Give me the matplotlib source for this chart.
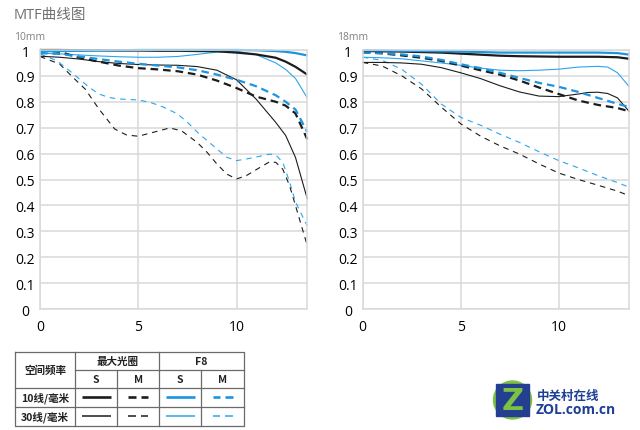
import matplotlib.pyplot as plt
from matplotlib.patches import Circle, Rectangle

plt.rcParams['font.family'] = ['Open Sans', 'Noto Sans CJK SC', 'DejaVu Sans']
plt.rcParams['lines.scale_dashes'] = False

# ---- 10mm panel ----
l_x = [0, 1, 2, 3, 4, 5, 6, 7, 8, 9, 10, 11, 12, 12.5, 13, 13.6]
l_10s_max = [1.0, 1.0, 0.999, 0.999, 0.998, 0.998, 0.997, 0.997, 0.996, 0.995, 0.99, 0.983, 0.97, 0.955, 0.935, 0.905]
l_10s_f8 = [0.995, 0.996, 0.997, 0.998, 0.999, 1.0, 1.0, 1.0, 1.0, 1.0, 1.0, 0.999, 0.996, 0.993, 0.988, 0.979]
l_10m_max = [1.0, 0.993, 0.97, 0.955, 0.94, 0.93, 0.925, 0.918, 0.905, 0.882, 0.853, 0.82, 0.8, 0.785, 0.755, 0.655]
l_10m_f8 = [0.988, 0.985, 0.975, 0.965, 0.955, 0.947, 0.94, 0.933, 0.922, 0.905, 0.885, 0.86, 0.825, 0.8, 0.77, 0.683]
l_30s_max = [0.976, 0.972, 0.965, 0.955, 0.948, 0.944, 0.942, 0.941, 0.936, 0.922, 0.885, 0.81, 0.72, 0.67, 0.585, 0.425]
l_30s_f8 = [0.988, 0.985, 0.981, 0.977, 0.974, 0.972, 0.972, 0.975, 0.983, 0.992, 0.995, 0.982, 0.95, 0.925, 0.89, 0.815]
l_30m_max_x = [0, 1, 1.6, 2.3, 3, 3.8, 4.4, 5, 5.9, 6.6, 7.2, 8, 8.5, 9, 9.5, 10, 10.5, 11.2, 11.7, 12, 12.35, 12.7, 13, 13.6]
l_30m_max = [0.975, 0.946, 0.9, 0.849, 0.772, 0.695, 0.672, 0.667, 0.685, 0.699, 0.688, 0.643, 0.605, 0.56, 0.521, 0.502, 0.515, 0.547, 0.569, 0.566, 0.54, 0.476, 0.399, 0.245]
l_30m_f8_x = [0, 0.85, 1.5, 2, 2.5, 3, 3.5, 4, 5, 5.6, 6.3, 7, 7.5, 8.1, 8.8, 9.5, 10, 10.5, 11.2, 11.7, 12, 12.35, 12.7, 13, 13.6]
l_30m_f8 = [0.985, 0.959, 0.92, 0.888, 0.856, 0.83, 0.817, 0.811, 0.807, 0.798, 0.779, 0.753, 0.721, 0.676, 0.631, 0.586, 0.573, 0.579, 0.59, 0.598, 0.594, 0.567, 0.49, 0.413, 0.32]

# ---- 18mm panel ----
r_x = [0, 1, 2, 3, 4, 5, 6, 7, 8, 9, 10, 11, 12, 13, 13.6]
r_10s_max = [0.996, 0.995, 0.994, 0.992, 0.99, 0.986, 0.982, 0.978, 0.976, 0.975, 0.974, 0.974, 0.974, 0.972, 0.966]
r_10s_f8 = [0.998, 0.998, 0.997, 0.996, 0.995, 0.994, 0.992, 0.99, 0.99, 0.99, 0.99, 0.99, 0.99, 0.988, 0.982]
r_10m_max = [0.991, 0.987, 0.979, 0.97, 0.958, 0.94, 0.922, 0.905, 0.882, 0.855, 0.83, 0.805, 0.788, 0.776, 0.763]
r_10m_f8 = [0.99, 0.988, 0.983, 0.975, 0.962, 0.945, 0.93, 0.912, 0.892, 0.873, 0.858, 0.838, 0.815, 0.792, 0.78]
r_30m_max = [0.952, 0.938, 0.9, 0.85, 0.78, 0.715, 0.668, 0.63, 0.598, 0.56, 0.525, 0.5, 0.478, 0.455, 0.437]
r_30m_f8 = [0.972, 0.96, 0.925, 0.868, 0.792, 0.74, 0.71, 0.675, 0.643, 0.607, 0.573, 0.545, 0.515, 0.488, 0.47]
r_30s_max_x = [0, 1, 2, 3, 4, 5, 6, 7, 8, 9, 10, 11, 11.5, 12, 12.5, 13, 13.6]
r_30s_max = [0.952, 0.952, 0.95, 0.945, 0.932, 0.912, 0.89, 0.862, 0.838, 0.822, 0.82, 0.83, 0.836, 0.837, 0.832, 0.815, 0.762]
r_30s_f8_x = [0, 1, 2, 3, 4, 5, 6, 7, 8, 9, 10, 11, 12, 12.5, 13, 13.6]
r_30s_f8 = [0.972, 0.97, 0.966, 0.958, 0.95, 0.941, 0.93, 0.922, 0.92, 0.922, 0.926, 0.934, 0.937, 0.934, 0.912, 0.858]

y_ticks = [0, 0.1, 0.2, 0.3, 0.4, 0.5, 0.6, 0.7, 0.8, 0.9, 1]
y_labels = ['0', '0.1', '0.2', '0.3', '0.4', '0.5', '0.6', '0.7', '0.8', '0.9', '1']
x_ticks = [0, 5, 10]

BLACK = '#1c1c1c'
BLUE = '#1b95e0'
BLUE_T = '#2ba6ec'
GRID = '#d9d9d9'

# style per curve kind: (color, lw, dashes)
styles = {
    '10s_max': (BLACK, 1.6, None),
    '10s_f8': (BLUE, 1.6, None),
    '10m_max': (BLACK, 1.6, (5.5, 3.5)),
    '10m_f8': (BLUE, 1.6, (5.5, 3.5)),
    '30s_max': (BLACK, 0.8, None),
    '30s_f8': (BLUE_T, 0.8, None),
    '30m_max': (BLACK, 0.8, (4, 3.5)),
    '30m_f8': (BLUE_T, 0.8, (4, 3.5)),
}

left_series = [
    ('30m_max', l_30m_max_x, l_30m_max), ('30m_f8', l_30m_f8_x, l_30m_f8),
    ('30s_max', l_x, l_30s_max), ('30s_f8', l_x, l_30s_f8),
    ('10m_max', l_x, l_10m_max), ('10m_f8', l_x, l_10m_f8),
    ('10s_max', l_x, l_10s_max), ('10s_f8', l_x, l_10s_f8),
]
right_series = [
    ('30m_max', r_x, r_30m_max), ('30m_f8', r_x, r_30m_f8),
    ('30s_max', r_30s_max_x, r_30s_max), ('30s_f8', r_30s_f8_x, r_30s_f8),
    ('10m_max', r_x, r_10m_max), ('10m_f8', r_x, r_10m_f8),
    ('10s_max', r_x, r_10s_max), ('10s_f8', r_x, r_10s_f8),
]

W, H = 640, 431
fig = plt.figure(figsize=(6.4, 4.31), dpi=100)


def px_rect(x0, y0, x1, y1):
    return [x0 / W, 1 - y1 / H, (x1 - x0) / W, (y1 - y0) / H]


def draw_panel(ax, series):
    for key, xs, ys in series:
        color, lw, dashes = styles[key]
        line, = ax.plot(xs, ys, color=color, lw=lw, clip_on=False, solid_capstyle='butt')
        if dashes:
            line.set_dashes(dashes)
    ax.set_xlim(0, 13.6)
    ax.set_ylim(0, 1)
    ax.set_xticks(x_ticks)
    ax.set_yticks(y_ticks)
    ax.set_yticklabels(y_labels)
    ax.grid(True, color=GRID, lw=1.1)
    ax.set_axisbelow(True)
    for s in ax.spines.values():
        s.set_color(GRID)
        s.set_linewidth(1.1)
    ax.tick_params(length=0, labelsize=10, colors='black')
    ax.tick_params(axis='x', pad=7)
    ax.tick_params(axis='y', pad=10.5)
    for lab in ax.get_yticklabels():
        lab.set_horizontalalignment('center')


ax1 = fig.add_axes(px_rect(40, 51, 307.3, 310))
draw_panel(ax1, left_series)
ax2 = fig.add_axes(px_rect(362.7, 51, 629.3, 310))
draw_panel(ax2, right_series)

# overlay in pixel coords for titles, table and logo
ov = fig.add_axes([0, 0, 1, 1], zorder=-1)
ov.set_xlim(0, W)
ov.set_ylim(H, 0)
ov.axis('off')

ov.text(14, 15, 'MTF曲线图', fontsize=10.5, color='#707070', va='center', ha='left')
ov.text(14, 38, '10mm', fontsize=7.5, color='#808080', va='center', ha='left')
ov.text(337, 38, '18mm', fontsize=7.5, color='#808080', va='center', ha='left')

# legend table
cols = [14.7, 75.3, 117, 159.3, 201.3, 243.7]
rows = [352.7, 371.3, 389.3, 407.7, 427]
tc = '#6a6a6a'
tk = dict(color=tc, lw=0.9)
ov.plot([cols[0], cols[-1], cols[-1], cols[0], cols[0]], [rows[0], rows[0], rows[-1], rows[-1], rows[0]], **tk)
ov.plot([cols[1], cols[-1]], [rows[1], rows[1]], **tk)
ov.plot([cols[0], cols[-1]], [rows[2], rows[2]], **tk)
ov.plot([cols[0], cols[-1]], [rows[3], rows[3]], **tk)
for c in (cols[1], cols[3]):
    ov.plot([c, c], [rows[0], rows[-1]], **tk)
for c in (cols[2], cols[4]):
    ov.plot([c, c], [rows[1], rows[-1]], **tk)

fs = dict(fontsize=7.6, fontweight='bold', color='#222222', ha='center', va='center',
          family=['Noto Sans CJK SC', 'DejaVu Sans'])
ov.text((cols[0] + cols[1]) / 2, (rows[0] + rows[2]) / 2, '空间频率', **fs)
ov.text((cols[1] + cols[3]) / 2, (rows[0] + rows[1]) / 2, '最大光圈', **fs)
ov.text((cols[3] + cols[5]) / 2, (rows[0] + rows[1]) / 2, 'F8', **fs)
for i, t in enumerate(['S', 'M', 'S', 'M']):
    ov.text((cols[i + 1] + cols[i + 2]) / 2, (rows[1] + rows[2]) / 2, t, **fs)
ov.text((cols[0] + cols[1]) / 2, (rows[2] + rows[3]) / 2, '10线/毫米', **fs)
ov.text((cols[0] + cols[1]) / 2, (rows[3] + rows[4]) / 2, '30线/毫米', **fs)

legend_keys = [['10s_max', '10m_max', '10s_f8', '10m_f8'],
               ['30s_max', '30m_max', '30s_f8', '30m_f8']]
for r, keys in enumerate(legend_keys):
    yc = (rows[r + 2] + rows[r + 3]) / 2
    for i, key in enumerate(keys):
        color, lw, dashes = styles[key]
        c0, c1 = cols[i + 1], cols[i + 2]
        cx = (c0 + c1) / 2
        if dashes:
            ov.plot([cx - 10, cx - 2.5], [yc, yc], color=color, lw=lw + 0.3, solid_capstyle='butt')
            ov.plot([cx + 2.5, cx + 10], [yc, yc], color=color, lw=lw + 0.3, solid_capstyle='butt')
        else:
            ov.plot([cx - 14.5, cx + 14.5], [yc, yc], color=color, lw=lw + 0.3, solid_capstyle='butt')

# ZOL logo
ov.add_patch(Circle((512.5, 401), 19, color='#7cc242', zorder=2))
ov.add_patch(Rectangle((496, 385), 33, 32, color='#243f8f', zorder=3))
ov.text(512.5, 401.5, 'Z', fontsize=22, fontweight='bold', color='#7cc242', ha='center', va='center',
        zorder=4, family=['DejaVu Sans'])
ov.text(537, 396, '中关村在线', fontsize=9, fontweight='bold', color='#1f3f95', ha='left', va='center',
        family=['Noto Sans CJK SC', 'DejaVu Sans'])
ov.text(536, 410.5, 'ZOL.com.cn', fontsize=10, fontweight='bold', color='#1f3f95', ha='left', va='center')

fig.savefig('out.png', dpi=100)
